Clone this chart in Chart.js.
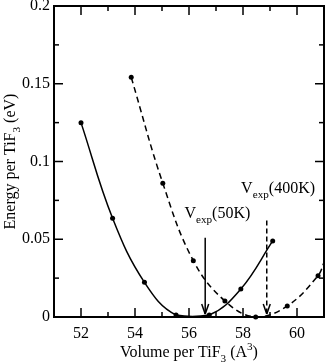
<!DOCTYPE html>
<html>
<head>
<meta charset="utf-8">
<script src="https://cdn.jsdelivr.net/npm/chart.js@4.4.1/dist/chart.umd.min.js"></script>
<style>
  html, body { margin: 0; padding: 0; background: #fff; }
  #wrap { width: 328px; height: 363px; }
</style>
</head>
<body>
<div id="wrap"><canvas id="c"></canvas></div>
<script>
// solid curve: volume (A^3) / energy (eV)
const solidVol = [52.0, 53.17, 54.35, 55.52, 56.75, 57.92, 59.1];
const solidE   = [0.125, 0.0635, 0.0223, 0.0013, 0.0013, 0.018, 0.0489];
// dashed curve (last entry is where the line leaves the frame, no marker)
const dashVol = [53.86, 55.03, 56.16, 57.33, 58.47, 59.64, 60.78, 61.0];
const dashE   = [0.1541, 0.086, 0.0362, 0.0103, 0.0, 0.0071, 0.0266, 0.035];
// experimental volumes
const vexpVol   = [56.6, 58.88];
const vexpTop   = [0.051, 0.062];
const vexpTemps = ['50K', '400K'];
// ticks
const xMajor = [52, 54, 56, 58, 60];
const xMinor = [51, 53, 55, 57, 59, 61];
const yMajor = [0, 0.05, 0.1, 0.15, 0.2];
const yMinor = [0.025, 0.075, 0.125, 0.175];

const FONT = '"Liberation Serif", "Times New Roman", serif';

function toPts(xs, ys) { return xs.map((v, i) => ({ x: v, y: ys[i] })); }

function richWidth(ctx, parts, size) {
  let w = 0;
  parts.forEach(p => {
    ctx.font = ((p.sub || p.sup) ? size * 0.7 : size) + 'px ' + FONT;
    w += ctx.measureText(p.t).width;
  });
  return w;
}
function richText(ctx, parts, x, y, size) {
  let cx = x;
  ctx.textBaseline = 'alphabetic';
  ctx.textAlign = 'left';
  parts.forEach(p => {
    const sz = (p.sub || p.sup) ? size * 0.7 : size;
    ctx.font = sz + 'px ' + FONT;
    const dy = p.sub ? size * 0.3 : p.sup ? -size * 0.45 : 0;
    ctx.fillText(p.t, cx, y + dy);
    cx += ctx.measureText(p.t).width;
  });
}

const framePlugin = {
  id: 'frame',
  afterDatasetsDraw(chart) {
    const { ctx, chartArea: a, scales: { x, y } } = chart;
    ctx.save();
    ctx.strokeStyle = '#000';
    ctx.fillStyle = '#000';
    const seg = (x1, y1, x2, y2) => { ctx.beginPath(); ctx.moveTo(x1, y1); ctx.lineTo(x2, y2); ctx.stroke(); };

    // inward ticks on all four sides
    ctx.lineWidth = 1.5;
    const xt = (v, len) => { const p = x.getPixelForValue(v); seg(p, a.bottom, p, a.bottom - len); seg(p, a.top, p, a.top + len); };
    const yt = (v, len) => { const p = y.getPixelForValue(v); seg(a.left, p, a.left + len, p); seg(a.right, p, a.right - len, p); };
    xMajor.forEach(v => xt(v, 9));
    xMinor.forEach(v => xt(v, 5));
    yMajor.forEach(v => yt(v, 9));
    yMinor.forEach(v => yt(v, 5));

    ctx.lineWidth = 2;
    ctx.strokeRect(a.left, a.top, a.right - a.left, a.bottom - a.top);

    // V_exp arrows
    ctx.lineWidth = 1.5;
    vexpVol.forEach((v, i) => {
      const px = x.getPixelForValue(v);
      const top = y.getPixelForValue(vexpTop[i]);
      const tip = y.getPixelForValue(0.002);
      ctx.setLineDash(i === 1 ? [5, 3] : []);
      seg(px, top, px, tip);
      ctx.setLineDash([]);
      seg(px, tip, px - 3.5, tip - 10);
      seg(px, tip, px + 3.5, tip - 10);
    });

    // V_exp labels
    richText(ctx, [{ t: 'V' }, { t: 'exp', sub: true }, { t: '(' + vexpTemps[0] + ')' }],
      x.getPixelForValue(55.83), y.getPixelForValue(0.0637), 16);
    richText(ctx, [{ t: 'V' }, { t: 'exp', sub: true }, { t: '(' + vexpTemps[1] + ')' }],
      x.getPixelForValue(57.93), y.getPixelForValue(0.0797), 16);

    // axis titles
    const xt1 = [{ t: 'Volume per TiF' }, { t: '3', sub: true }, { t: ' (A' }, { t: '3', sup: true }, { t: ')' }];
    const wx = richWidth(ctx, xt1, 16);
    richText(ctx, xt1, (a.left + a.right) / 2 - wx / 2, 357, 16);

    const yt1 = [{ t: 'Energy per TiF' }, { t: '3', sub: true }, { t: ' (eV)' }];
    const wy = richWidth(ctx, yt1, 16);
    ctx.translate(15, (a.top + a.bottom) / 2);
    ctx.rotate(-Math.PI / 2);
    richText(ctx, yt1, -wy / 2, 0, 16);
    ctx.restore();
  }
};

new Chart(document.getElementById('c'), {
  type: 'line',
  data: {
    datasets: [
      {
        data: toPts(solidVol, solidE),
        borderColor: '#000', backgroundColor: '#000',
        borderWidth: 1.5, tension: 0.4,
        pointRadius: 2.5, pointBorderWidth: 0,
        clip: { left: 0, top: 0, right: 0, bottom: 4 }
      },
      {
        data: toPts(dashVol, dashE),
        borderColor: '#000', backgroundColor: '#000',
        borderWidth: 1.5, borderDash: [6, 4], tension: 0.4,
        pointRadius: dashVol.map((v, i) => i === dashVol.length - 1 ? 0 : 2.5),
        pointBorderWidth: 0,
        clip: { left: 0, top: 0, right: 0, bottom: 4 }
      }
    ]
  },
  options: {
    responsive: true,
    maintainAspectRatio: false,
    animation: false,
    layout: { padding: { top: 6, right: 3, left: 0, bottom: 0 } },
    plugins: { legend: { display: false }, tooltip: { enabled: false } },
    scales: {
      x: {
        type: 'linear', min: 51, max: 61,
        grid: { display: false, drawTicks: false },
        border: { display: false },
        ticks: { padding: 7, color: '#000', font: { family: FONT, size: 16 }, callback: v => String(v) },
        afterBuildTicks: s => { s.ticks = xMajor.map(v => ({ value: v })); },
        afterFit: s => { s.height = 46; s.paddingLeft = 0; s.paddingRight = 0; }
      },
      y: {
        type: 'linear', min: 0, max: 0.2,
        grid: { display: false, drawTicks: false },
        border: { display: false },
        ticks: { padding: 4, color: '#000', font: { family: FONT, size: 16 }, callback: v => String(+v.toFixed(3)) },
        afterBuildTicks: s => { s.ticks = yMajor.map(v => ({ value: v })); },
        afterFit: s => { s.width = 54; s.paddingTop = 0; s.paddingBottom = 0; }
      }
    }
  },
  plugins: [framePlugin]
});
</script>
</body>
</html>
